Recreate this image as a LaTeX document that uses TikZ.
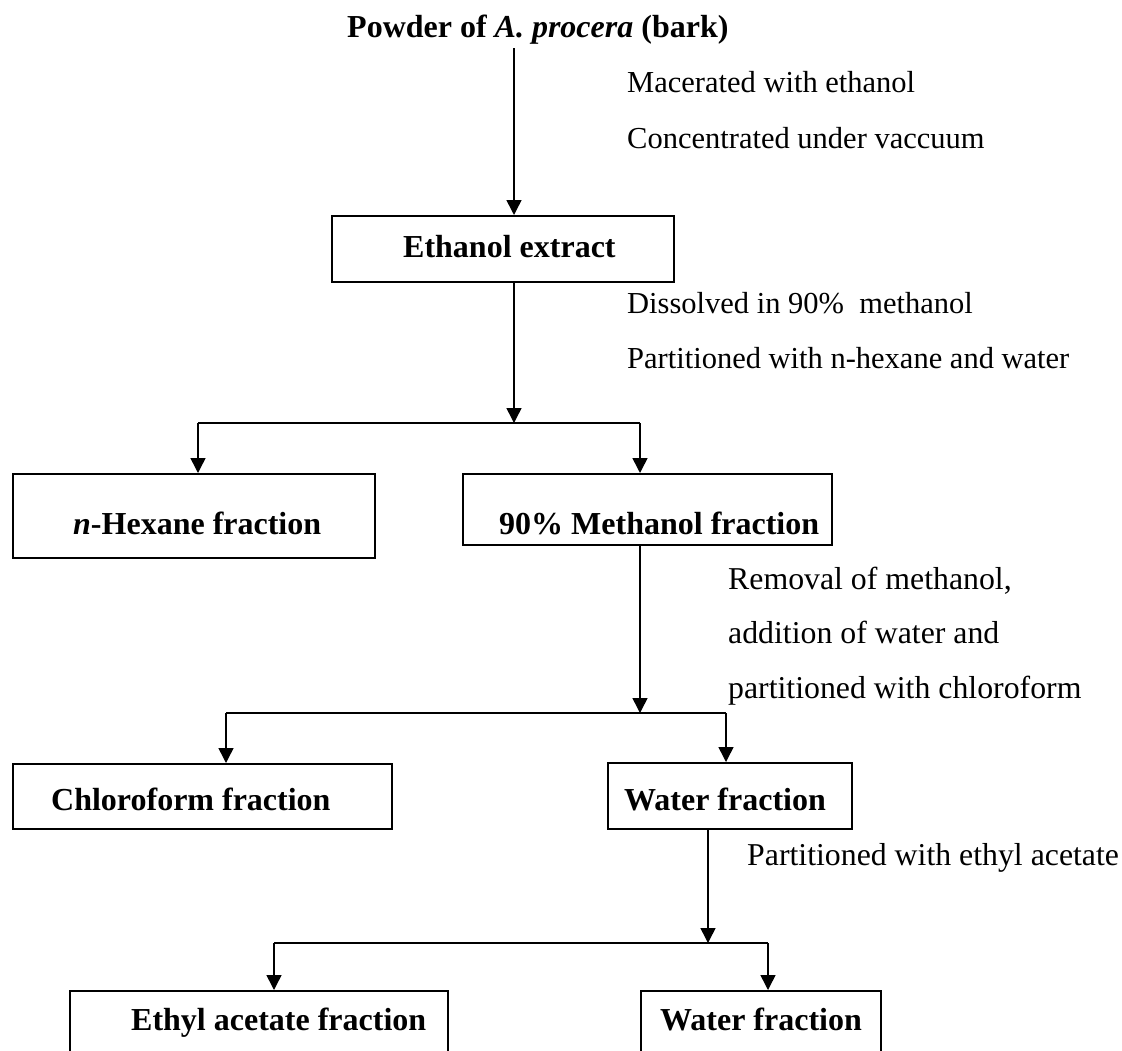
\documentclass[tikz,border=0pt]{standalone}
\usepackage{fontspec}
\setmainfont{Liberation Serif}
\usetikzlibrary{arrows.meta}
\begin{document}
\begin{tikzpicture}[x=1pt,y=-1pt,
  box/.style={draw,line width=1.8pt,inner sep=0pt,anchor=north west},
  lbl/.style={anchor=base west,inner sep=0pt,font=\fontsize{30.5}{36}\selectfont},
  lbllg/.style={anchor=base west,inner sep=0pt,font=\fontsize{31.8}{38}\selectfont},
  blbl/.style={anchor=base west,inner sep=0pt,font=\fontsize{32}{38}\selectfont\bfseries},
  conn/.style={line width=1.5pt},
  arr/.style={line width=1.5pt,-{Triangle[length=15pt,width=15pt]}}]
\useasboundingbox (0,0) rectangle (1122,1050);
\clip (0,0) rectangle (1122,1050);

% boxes
\node[box,minimum width=342pt,minimum height=66pt] (eth) at (331,215) {};
\node[box,minimum width=362pt,minimum height=84pt] (hex) at (12,473) {};
\node[box,minimum width=369pt,minimum height=71pt] (meth) at (462,473) {};
\node[box,minimum width=379pt,minimum height=65pt] (chl) at (12,763) {};
\node[box,minimum width=244pt,minimum height=66pt] (wat) at (607,762) {};
\node[box,minimum width=378pt,minimum height=120pt] (ety) at (69,990) {};
\node[box,minimum width=240pt,minimum height=120pt] (wat2) at (640,990) {};

% box texts
\node[blbl] (title) at (347,37) {Powder of \textit{A. procera} (bark)};
\node[blbl] (tEth) at (403,257) {Ethanol extract};
\node[blbl] (tHex) at (73,534) {\textit{n}-Hexane fraction};
\node[blbl] (tMeth) at (499,534) {90\% Methanol fraction};
\node[blbl] (tChl) at (51,810) {Chloroform fraction};
\node[blbl] (tWat) at (624,810) {Water fraction};
\node[blbl] (tEty) at (131,1030) {Ethyl acetate fraction};
\node[blbl] (tWat2) at (660,1030) {Water fraction};

% step texts
\node[lbl] (s1) at (627,92) {Macerated with ethanol};
\node[lbl] (s2) at (627,148) {Concentrated under vaccuum};
\node[lbl] (s3) at (627,313) {Dissolved in 90\%\ \ methanol};
\node[lbl] (s4) at (627,368) {Partitioned with n-hexane and water};
\node[lbllg] (s5) at (728,589) {Removal of methanol,};
\node[lbllg] (s6) at (728,643) {addition of water and};
\node[lbllg] (s7) at (728,698) {partitioned with chloroform};
\node[lbllg] (s8) at (747,865) {Partitioned with ethyl acetate};

% junction coordinates
\coordinate (j0) at (514,48);
\coordinate (j1) at (514,423);
\coordinate (b1l) at (198,423);
\coordinate (b1r) at (640,423);
\coordinate (j2) at (640,713);
\coordinate (b2l) at (226,713);
\coordinate (b2r) at (726,713);
\coordinate (j3) at (708,943);
\coordinate (b3l) at (274,943);
\coordinate (b3r) at (768,943);

% connectors
\draw[arr] (j0) -- (eth.north -| j0);
\draw[arr] (eth.south -| j1) -- (j1);
\draw[conn] (b1l) -- (b1r);
\draw[arr] (b1l) -- (hex.north -| b1l);
\draw[arr] (b1r) -- (meth.north -| b1r);

\draw[arr] (meth.south -| j2) -- (j2);
\draw[conn] (b2l) -- (b2r);
\draw[arr] (b2l) -- (chl.north -| b2l);
\draw[arr] (b2r) -- (wat.north -| b2r);

\draw[arr] (wat.south -| j3) -- (j3);
\draw[conn] (b3l) -- (b3r);
\draw[arr] (b3l) -- (ety.north -| b3l);
\draw[arr] (b3r) -- (wat2.north -| b3r);
\end{tikzpicture}
\end{document}
